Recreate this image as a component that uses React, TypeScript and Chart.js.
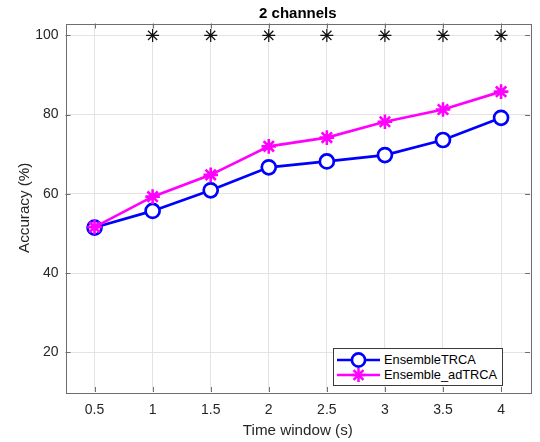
import React, { useEffect, useRef } from 'react';
import { Chart, registerables } from 'chart.js';

Chart.register(...registerables);

// ---- data ----
const timeWindows = [0.5, 1, 1.5, 2, 2.5, 3, 3.5, 4];
const ensembleTRCA = [51.5, 55.7, 60.9, 66.7, 68.2, 69.8, 73.6, 79.2];
const ensembleAdTRCA = [51.6, 59.3, 64.8, 72.0, 74.2, 78.2, 81.3, 85.8];
const sigWindows = [1, 1.5, 2, 2.5, 3, 3.5, 4];
const sigMarks = [100, 100, 100, 100, 100, 100, 100];
const xTicks = [0.5, 1, 1.5, 2, 2.5, 3, 3.5, 4];
const yTicks = [20, 40, 60, 80, 100];
const seriesNames = ['EnsembleTRCA', 'Ensemble_adTRCA'];
const seriesColors = ['#0000ff', '#ff00ff'];
const seriesMarkers = ['circle', 'star'];
const titleText = '2 channels';
const xTitle = 'Time window (s)';
const yTitle = 'Accuracy (%)';

const FONT = '"Liberation Sans", Arial, Helvetica, sans-serif';
const AXIS = '#262626';
const BOX = '#6e6e6e';
const GRID = '#e3e3e3';

const boxPlugin = {
  id: 'matlabBox',
  beforeDatasetsDraw(chart: any) {
    const { ctx, chartArea, scales } = chart;
    const { left, right, top, bottom } = chartArea;
    const x = scales.x;
    const y = scales.y;
    ctx.save();
    ctx.strokeStyle = BOX;
    ctx.lineWidth = 1;
    ctx.strokeRect(Math.round(left) + 0.5, Math.round(top) + 0.5, Math.round(right - left), Math.round(bottom - top));
    const tl = 5;
    ctx.beginPath();
    xTicks.forEach((v) => {
      const px = Math.round(x.getPixelForValue(v)) + 0.5;
      ctx.moveTo(px, bottom);
      ctx.lineTo(px, bottom - tl);
      ctx.moveTo(px, top);
      ctx.lineTo(px, top + tl);
    });
    yTicks.forEach((v) => {
      const py = Math.round(y.getPixelForValue(v)) + 0.5;
      ctx.moveTo(left, py);
      ctx.lineTo(left + tl, py);
      ctx.moveTo(right, py);
      ctx.lineTo(right - tl, py);
    });
    ctx.stroke();
    ctx.restore();
  },
};

function LegendMarker({ kind, color }: { kind: string; color: string }) {
  const cx = 21.5;
  const cy = 8;
  const r = 7;
  const d = r * Math.cos(Math.PI / 4);
  return (
    <svg width={43} height={16} style={{ display: 'block' }}>
      <line x1={0} y1={cy} x2={43} y2={cy} stroke={color} strokeWidth={2.7} />
      {kind === 'circle' ? (
        <circle cx={cx} cy={cy} r={6.6} fill="#fff" stroke={color} strokeWidth={2.7} />
      ) : (
        <g stroke={color} strokeWidth={2.5}>
          <line x1={cx} y1={cy - r} x2={cx} y2={cy + r} />
          <line x1={cx - r} y1={cy} x2={cx + r} y2={cy} />
          <line x1={cx - d} y1={cy - d} x2={cx + d} y2={cy + d} />
          <line x1={cx - d} y1={cy + d} x2={cx + d} y2={cy - d} />
        </g>
      )}
    </svg>
  );
}

export default function App() {
  const ref = useRef<HTMLCanvasElement | null>(null);

  useEffect(() => {
    if (!ref.current) return;
    const chart = new Chart(ref.current, {
      type: 'line',
      data: {
        datasets: [
          {
            label: seriesNames[1],
            data: timeWindows.map((t, i) => ({ x: t, y: ensembleAdTRCA[i] })),
            borderColor: seriesColors[1],
            backgroundColor: seriesColors[1],
            borderWidth: 2.7,
            pointStyle: seriesMarkers[1] as any,
            pointRadius: 7.3,
            pointBorderWidth: 2.6,
            pointBorderColor: seriesColors[1],
            tension: 0,
            order: 0,
          },
          {
            label: seriesNames[0],
            data: timeWindows.map((t, i) => ({ x: t, y: ensembleTRCA[i] })),
            borderColor: seriesColors[0],
            backgroundColor: '#ffffff',
            borderWidth: 2.7,
            pointStyle: seriesMarkers[0] as any,
            pointRadius: 7,
            pointBorderWidth: 2.7,
            pointBorderColor: seriesColors[0],
            pointBackgroundColor: '#ffffff',
            tension: 0,
            order: 1,
          },
          {
            label: 'significance',
            data: sigWindows.map((t, i) => ({ x: t, y: sigMarks[i] })),
            showLine: false,
            borderColor: '#111111',
            backgroundColor: '#111111',
            pointStyle: 'star',
            pointRadius: 6.5,
            pointBorderWidth: 1.2,
            order: 2,
          },
        ],
      },
      options: {
        responsive: false,
        animation: false,
        events: [],
        layout: { padding: { left: 0, right: 5, top: 0, bottom: 0 } },
        plugins: {
          legend: { display: false },
          tooltip: { enabled: false },
          title: {
            display: true,
            text: titleText,
            fullSize: false,
            color: '#000000',
            font: { family: FONT, size: 15, weight: 'bold', lineHeight: 1.2 },
            padding: { top: 5, bottom: 0.5 },
          },
        },
        scales: {
          x: {
            type: 'linear',
            min: 0.25,
            max: 4.25,
            afterFit: (s: any) => {
              s.height = 50;
            },
            afterBuildTicks: (s: any) => {
              s.ticks = xTicks.map((v) => ({ value: v }));
            },
            grid: { color: GRID, lineWidth: 1, drawTicks: false },
            border: { display: false },
            ticks: {
              color: AXIS,
              font: { family: FONT, size: 14 },
              padding: 10,
              maxRotation: 0,
              autoSkip: false,
              callback: (v: any) => String(v),
            },
            title: {
              display: true,
              text: xTitle,
              color: AXIS,
              font: { family: FONT, size: 15.2, lineHeight: 1.2 },
              padding: { top: 0, bottom: 1.8 },
            },
          },
          y: {
            type: 'linear',
            min: 10,
            max: 103,
            afterFit: (s: any) => {
              s.width = 65.5;
            },
            afterBuildTicks: (s: any) => {
              s.ticks = yTicks.map((v) => ({ value: v }));
            },
            grid: { color: GRID, lineWidth: 1, drawTicks: false },
            border: { display: false },
            ticks: {
              color: AXIS,
              font: { family: FONT, size: 14 },
              padding: 7,
              callback: (v: any) => String(v),
            },
            title: {
              display: true,
              text: yTitle,
              color: AXIS,
              font: { family: FONT, size: 15.2, lineHeight: 1.2 },
              padding: { top: 15.8, bottom: 0 },
            },
          },
        },
      },
      plugins: [boxPlugin],
    });
    return () => chart.destroy();
  }, []);

  return (
    <div style={{ position: 'absolute', left: 0, top: 0, width: 540, height: 442, background: '#fff' }}>
      <canvas ref={ref} width={540} height={442} style={{ position: 'absolute', left: 0, top: 0 }} />
      <div
        style={{
          position: 'absolute',
          left: 333,
          top: 347.5,
          width: 170,
          height: 38,
          boxSizing: 'border-box',
          border: '1px solid #3a3a3a',
          background: '#fff',
          fontFamily: FONT,
          fontSize: 12.8,
          color: '#000',
        }}
      >
        {seriesNames.map((name, i) => (
          <div
            key={name}
            style={{
              position: 'absolute',
              left: 3,
              top: 3 + i * 15.7,
              height: 16,
              display: 'flex',
              alignItems: 'center',
              whiteSpace: 'nowrap',
            }}
          >
            <LegendMarker kind={seriesMarkers[i]} color={seriesColors[i]} />
            <span style={{ marginLeft: 4, lineHeight: '16px' }}>{name}</span>
          </div>
        ))}
      </div>
    </div>
  );
}
